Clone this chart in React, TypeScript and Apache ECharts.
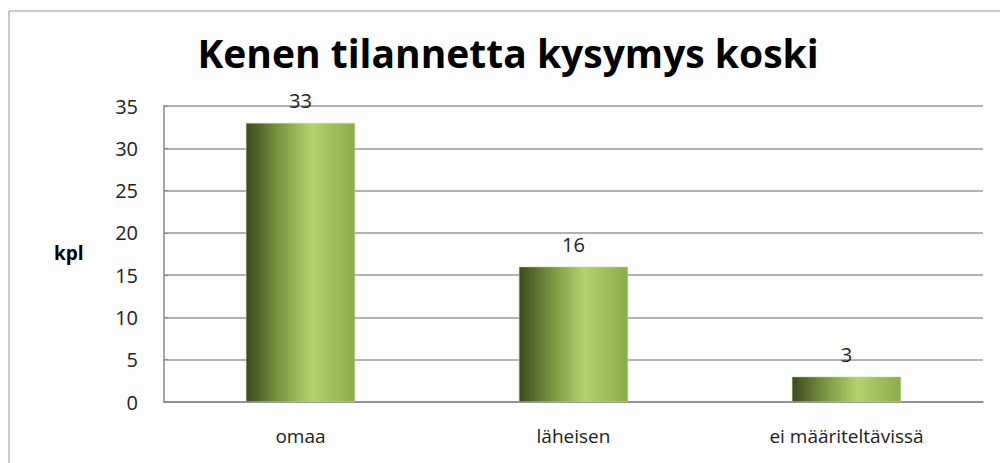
import React, { useEffect, useRef } from "react";
import * as echarts from "echarts";

const title = "Kenen tilannetta kysymys koski";
const categories = ["omaa", "läheisen", "ei määriteltävissä"];
const values = [33, 16, 3];
const yTicks = { min: 0, max: 35, interval: 5 };
const yName = "kpl";

export default function App() {
  const ref = useRef<HTMLDivElement>(null);
  useEffect(() => {
    if (!ref.current) return;
    const chart = echarts.init(ref.current, null, { renderer: "svg" });
    const font = "'Open Sans', 'Noto Sans', sans-serif";
    const barColor = new echarts.graphic.LinearGradient(0, 0, 1, 0, [
      { offset: 0, color: "#3b4820" },
      { offset: 0.3, color: "#7a9541" },
      { offset: 0.6, color: "#b2d36c" },
      { offset: 1, color: "#8cab4e" },
    ]);
    chart.setOption({
      animation: false,
      backgroundColor: "#fdfdfd",
      title: {
        text: title,
        left: "center",
        top: 20,
        textStyle: { fontFamily: font, fontWeight: "bold", fontSize: 39, color: "#000" },
      },
      graphic: [
        {
          type: "rect",
          shape: { x: 1, y: 3, width: 1020, height: 470 },
          style: { fill: "none", stroke: "#999", lineWidth: 1 },
          silent: true,
        },
        {
          type: "text",
          x: 46,
          y: 245,
          style: { text: yName, fontFamily: font, fontWeight: "bold", fontSize: 19, fill: "#000", textVerticalAlign: "middle" },
        },
      ],
      grid: { left: 156, right: 25, top: 98, bottom: 61, containLabel: false },
      xAxis: {
        type: "category",
        data: categories,
        axisLine: { lineStyle: { color: "#888", width: 1.5 } },
        axisTick: { show: false },
        axisLabel: { fontFamily: font, fontSize: 19, color: "#222", margin: 24 },
      },
      yAxis: {
        type: "value",
        min: yTicks.min,
        max: yTicks.max,
        interval: yTicks.interval,
        axisLine: { show: true, lineStyle: { color: "#888", width: 1.5 } },
        axisTick: { show: true, inside: true, length: 4, lineStyle: { color: "#888" } },
        axisLabel: { fontFamily: font, fontSize: 20, color: "#222", margin: 26 },
        splitLine: { lineStyle: { color: "#999", width: 1.5 } },
      },
      series: [
        {
          type: "bar",
          data: values,
          barWidth: "40%",
          itemStyle: { color: barColor, borderColor: "#c8dd98", borderWidth: 0.5 },
          label: {
            show: true,
            position: "top",
            distance: 12,
            fontFamily: font,
            fontSize: 20,
            color: "#222",
          },
        },
      ],
    });
    return () => chart.dispose();
  }, []);
  return <div ref={ref} style={{ width: 1000, height: 455 }} />;
}
